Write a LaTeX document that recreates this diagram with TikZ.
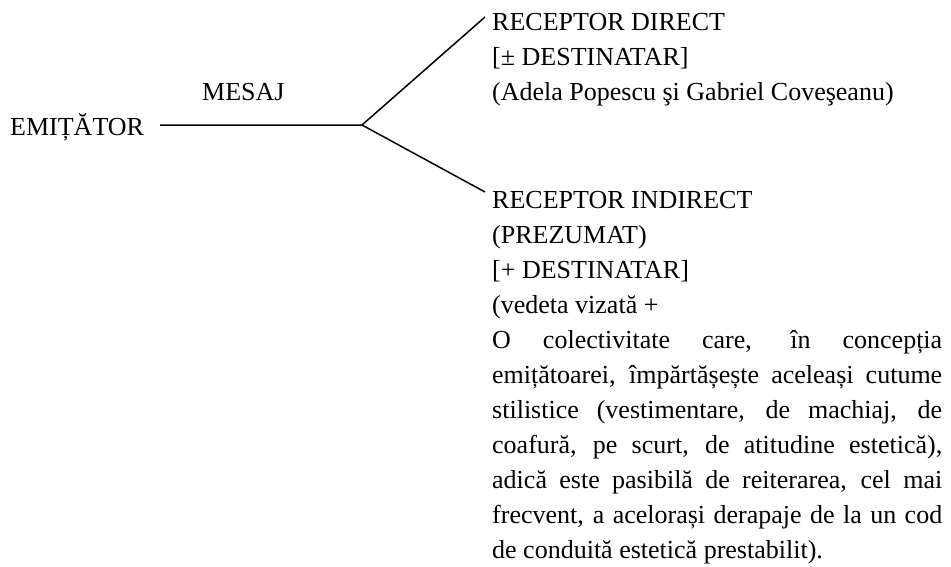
\documentclass[tikz,border=0pt]{standalone}
\usepackage{fontspec}
\setmainfont{Liberation Serif}
\begin{document}
\begin{tikzpicture}[x=1pt,y=-1pt,
  txt/.style={inner sep=0pt, anchor=base west, font=\fontsize{26}{35}\selectfont},
  conn/.style={line width=1.5pt, line join=miter}]
\useasboundingbox (0,0) rectangle (951,566);
\node[txt] (emit) at (10,135) {EMIȚĂTOR};
\node[txt] (mesaj) at (202,100) {MESAJ};
\node[txt, text width=450pt, align=flush left] (direct) at (492,30)
  {RECEPTOR DIRECT\\{[}± DESTINATAR{]}\\(Adela Popescu şi Gabriel Coveşeanu)};
\node[txt, text width=450pt, align=justify] (indirect) at (492,208)
  {\tolerance=10000\hyphenpenalty=10000\relax
   RECEPTOR INDIRECT\\(PREZUMAT)\\{[}+ DESTINATAR{]}\\(vedeta vizată +\\O colectivitate care, în concepția\linebreak
   emițătoarei, împărtășește aceleași cutume\linebreak
   stilistice (vestimentare, de machiaj, de\linebreak
   coafură, pe scurt, de atitudine estetică),\linebreak
   adică este pasibilă de reiterarea, cel mai\linebreak
   frecvent, a acelorași derapaje de la un cod\linebreak
   de conduită estetică prestabilit).};
\coordinate (start) at (160,125);
\coordinate (j) at (362,125);
\coordinate (up) at (485,17);
\coordinate (down) at (485,192);
\draw[conn] (start) -- (j) -- (up);
\draw[conn] (j) -- (down);
\end{tikzpicture}
\end{document}
